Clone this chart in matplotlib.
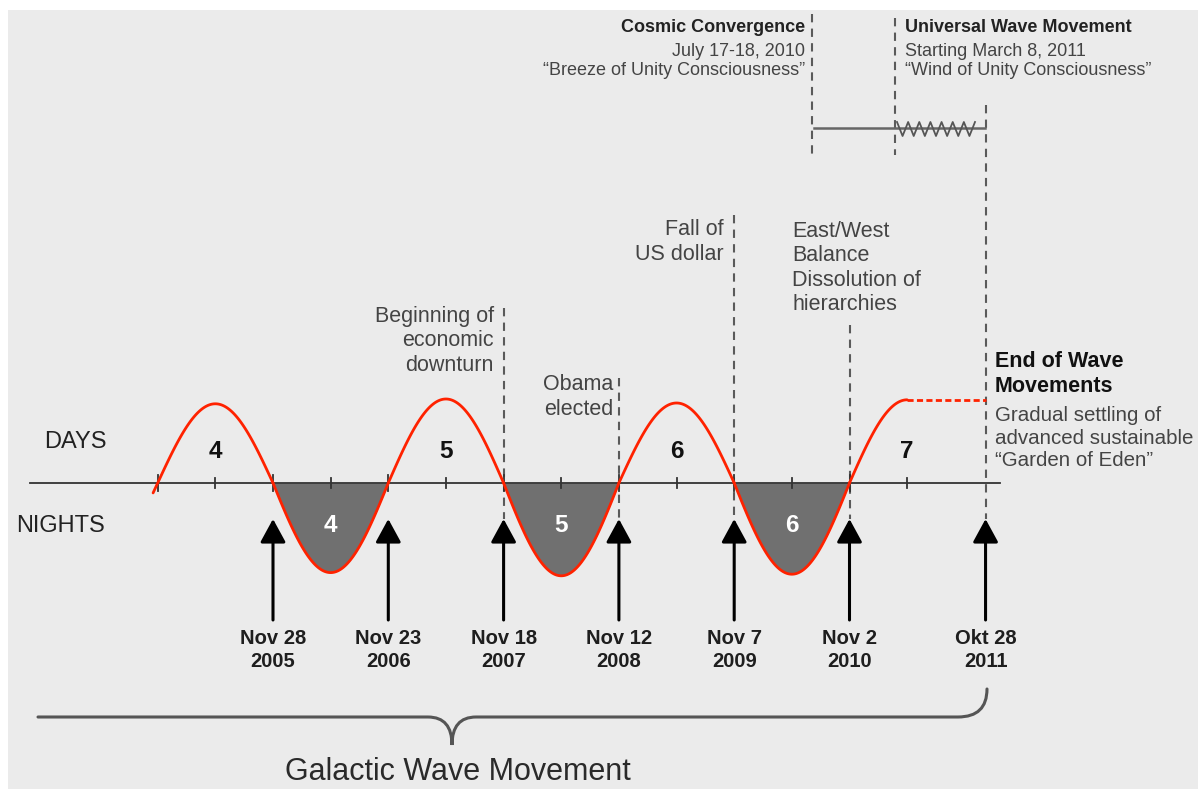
import numpy as np
import matplotlib
matplotlib.use("Agg")
import matplotlib.pyplot as plt
from matplotlib.patches import Rectangle, PathPatch, FancyArrowPatch
from matplotlib.path import Path

plt.rcParams["font.family"] = ["Liberation Sans", "DejaVu Sans"]

# ─── Data ────────────────────────────────────────────────────────────────────
# x in half-cycle units (0 = Nov 28 2005), y in wave amplitude units
date_labels = ["Nov 28\n2005", "Nov 23\n2006", "Nov 18\n2007", "Nov 12\n2008",
               "Nov 7\n2009", "Nov 2\n2010", "Okt 28\n2011"]
date_pos = [0, 1, 2, 3, 4, 5, 6.18]

day_labels = ["4", "5", "6", "7"]
day_start = [-1, 1, 3, 5]
day_amp = [0.99, 1.05, 1.0, 1.04]

night_labels = ["4", "5", "6"]
night_start = [0, 2, 4]
night_amp = [1.12, 1.16, 1.14]

tick_pos = np.arange(-1, 5.51, 0.5)

# ─── Layout helpers (reference pixels -> data units) ─────────────────────────
W, H = 1198, 789
X0, DX = 273, 115.3
Y0, DY = 483, 80


def ux(px):
    return (px - X0) / DX


def vy(py):
    return (Y0 - py) / DY


RED = "#ff2200"
TXT = "#444444"
DASH = "#5a5a5a"

fig = plt.figure(figsize=(W / 100, H / 100), dpi=100, facecolor="white")
fig.patches.append(Rectangle((8 / W, -0.01), 1, (H - 10) / H + 0.01, transform=fig.transFigure,
                             facecolor="#ebebeb", edgecolor="none", zorder=-10))
ax = fig.add_axes([0, 0, 1, 1])
ax.set_xlim(ux(0), ux(W))
ax.set_ylim(vy(H), vy(0))
ax.axis("off")
ax.patch.set_alpha(0)

# ─── Wave ────────────────────────────────────────────────────────────────────
for k, (s, a) in enumerate(zip(day_start, day_amp)):
    if k == len(day_start) - 1:
        u = np.linspace(s, s + 0.5, 60)
    else:
        u = np.linspace(s - (0.04 if k == 0 else 0), s + 1, 120)
    ax.plot(u, a * np.sin(np.pi * (u - s)), color=RED, lw=2, zorder=4,
            solid_capstyle="round")
    ax.text(s + 0.5, vy(452), day_labels[k], ha="center", va="center",
            fontsize=17.5, fontweight="bold", color="#111")

# plateau after the last day
ax.plot([day_start[-1] + 0.5, date_pos[-1]], [day_amp[-1], day_amp[-1]],
        color=RED, lw=2, ls=(0, (2.2, 1.2)), zorder=4)

for k, (s, a) in enumerate(zip(night_start, night_amp)):
    u = np.linspace(s, s + 1, 120)
    w = -a * np.sin(np.pi * (u - s))
    ax.fill_between(u, w, 0, color="#707070", lw=0, zorder=2)
    ax.plot(u, w, color=RED, lw=2, zorder=4)
    ax.text(s + 0.5, vy(525), night_labels[k], ha="center", va="center",
            fontsize=17.5, fontweight="bold", color="white", zorder=5)

# time axis and ticks
ax.plot([ux(30), ux(1000)], [0, 0], color="#333", lw=1.3, zorder=3)
for t in tick_pos:
    h = 0.1 if t == int(t) else 0.06
    ax.plot([t, t], [-h, h], color="#333", lw=1.3, zorder=3)

ax.text(ux(75), vy(442), "DAYS", ha="center", va="center", fontsize=17, color="#222")
ax.text(ux(61), vy(526), "NIGHTS", ha="center", va="center", fontsize=17, color="#222")

# ─── Arrows and dates ────────────────────────────────────────────────────────
for p, lab in zip(date_pos, date_labels):
    arr = FancyArrowPatch((p, vy(620)), (p, vy(519)),
                          arrowstyle="-|>,head_length=1.1,head_width=0.6",
                          mutation_scale=13, color="black", lw=2.2,
                          shrinkA=0, shrinkB=0, zorder=6)
    ax.add_patch(arr)
    ax.text(p, vy(650), lab, ha="center", va="center", fontsize=14.5,
            fontweight="bold", color="#1e1e1e", linespacing=1.3)

# ─── Event annotations ───────────────────────────────────────────────────────
dash_kw = dict(color=DASH, lw=1.5, ls=(0, (4, 3)), zorder=1)
ax.plot([2, 2], [vy(308), vy(519)], **dash_kw)
ax.plot([3, 3], [vy(378), vy(519)], **dash_kw)
ax.plot([4, 4], [vy(215), vy(519)], **dash_kw)
ax.plot([5, 5], [vy(325), vy(519)], **dash_kw)
ax.plot([date_pos[-1], date_pos[-1]], [vy(105), vy(519)], **dash_kw)

ann_kw = dict(fontsize=15.5, color=TXT, linespacing=1.2, va="center")
ax.text(ux(494), vy(341), "Beginning of\neconomic\ndownturn", ha="right", **ann_kw)
ax.text(ux(613), vy(397), "Obama\nelected", ha="right", **ann_kw)
ax.text(ux(724), vy(242), "Fall of\nUS dollar", ha="right", **ann_kw)
ax.text(ux(792), vy(268), "East/West\nBalance\nDissolution of\nhierarchies", ha="left", **ann_kw)

ax.text(ux(995), vy(374), "End of Wave\nMovements", ha="left", fontsize=15.5,
        fontweight="bold", color="#111", linespacing=1.2, va="center")
ax.text(ux(995), vy(438), "Gradual settling of\nadvanced sustainable\n\u201cGarden of Eden\u201d",
        ha="left", fontsize=14.8, color=TXT, linespacing=1.25, va="center")

# ─── Top timeline ────────────────────────────────────────────────────────────
ax.plot([ux(812), ux(812)], [vy(14), vy(155)], **dash_kw)
ax.plot([ux(895), ux(895)], [vy(18), vy(155)], **dash_kw)
ax.plot([ux(814), ux(985)], [vy(128), vy(128)], color="#666", lw=1.8)
zig_x = np.linspace(ux(897), ux(975), 15)
zig_y = np.where(np.arange(15) % 2 == 0, vy(122), vy(136))
ax.plot(zig_x, zig_y, color="#555", lw=1.3)

ax.text(ux(805), vy(28), "Cosmic Convergence", ha="right", va="center",
        fontsize=13, fontweight="bold", color="#222")
ax.text(ux(805), vy(61), "July 17-18, 2010\n\u201cBreeze of Unity Consciousness\u201d",
        ha="right", va="center", fontsize=13, color=TXT, linespacing=1.2)
ax.text(ux(905), vy(28), "Universal Wave Movement", ha="left", va="center",
        fontsize=13, fontweight="bold", color="#222")
ax.text(ux(905), vy(61), "Starting March 8, 2011\n\u201cWind of Unity Consciousness\u201d",
        ha="left", va="center", fontsize=13, color=TXT, linespacing=1.2)

# ─── Bottom brace ────────────────────────────────────────────────────────────
pts = [(38, 717), (428, 717), (452, 717), (452, 745),
       (452, 717), (476, 717), (958, 717), (987, 717), (987, 689)]
codes = [Path.MOVETO, Path.LINETO, Path.CURVE3, Path.CURVE3,
         Path.CURVE3, Path.CURVE3, Path.LINETO, Path.CURVE3, Path.CURVE3]
brace = Path([(ux(x), vy(y)) for x, y in pts], codes)
ax.add_patch(PathPatch(brace, fill=False, edgecolor="#555", lw=2.2, capstyle="round"))

ax.text(ux(458), vy(772), "Galactic Wave Movement", ha="center", va="center",
        fontsize=22, color="#2a2a2a")

fig.savefig("out.png", dpi=100)
